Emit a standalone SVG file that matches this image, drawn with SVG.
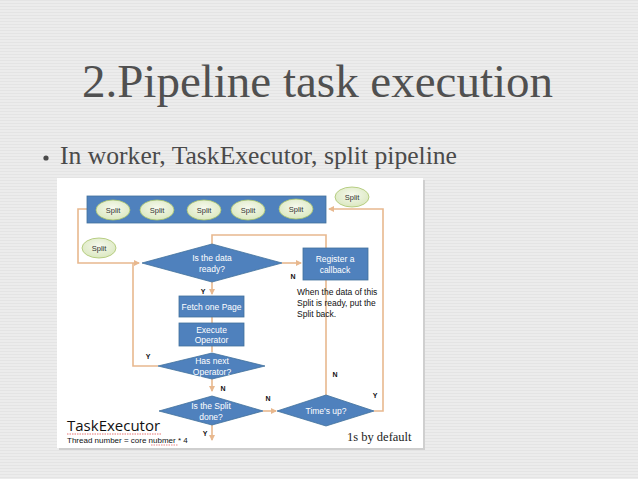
<svg xmlns="http://www.w3.org/2000/svg" width="638" height="479" viewBox="0 0 638 479">
<defs>
<pattern id="bg" width="4" height="3" patternUnits="userSpaceOnUse">
<rect width="4" height="3" fill="#ececec"/>
<rect width="4" height="1" fill="#e4e4e4"/>
</pattern>
<radialGradient id="sg" cx="50%" cy="40%" r="60%">
<stop offset="0" stop-color="#f6f9ee"/>
<stop offset="1" stop-color="#dbe8c0"/>
</radialGradient>
<marker id="ah" markerWidth="6" markerHeight="6" refX="5" refY="3" orient="auto" markerUnits="userSpaceOnUse">
<path d="M0,0 L6,3 L0,6 z" fill="#e8b88e"/>
</marker>
</defs>
<style>
.blue{fill:#4f81bd;stroke:#41719c;stroke-width:0.8}
.split{fill:url(#sg);stroke:#a9c46c;stroke-width:0.8}
.st{font-family:"Liberation Sans",Arial,sans-serif;font-size:7.5px;fill:#333;text-anchor:middle}
.wt{font-family:"Liberation Sans",Arial,sans-serif;font-size:8.5px;fill:#ffffff;text-anchor:middle}
.lb{font-family:"Liberation Sans",Arial,sans-serif;font-size:7px;fill:#111;font-weight:bold;text-anchor:middle}
.bt{font-family:"Liberation Sans",Arial,sans-serif;font-size:8.5px;fill:#111}
.ln{fill:none;stroke:#e8b88e;stroke-width:1.6}
</style>
<rect width="638" height="479" fill="url(#bg)"/>
<text x="82" y="97" font-family="Liberation Serif,'Times New Roman',serif" font-size="47" fill="#505050" textLength="471" lengthAdjust="spacingAndGlyphs">2.Pipeline task execution</text>
<circle cx="46" cy="158" r="2.6" fill="#4a4a4a"/>
<text x="60" y="164" font-family="Liberation Serif,'Times New Roman',serif" font-size="25" fill="#4a4a4a" textLength="397" lengthAdjust="spacingAndGlyphs">In worker, TaskExecutor, split pipeline</text>
<rect x="59" y="180" width="366" height="270" fill="#cfcfcf"/>
<rect x="57" y="178" width="366" height="270" fill="#ffffff"/>
<g id="connectors">
<polyline class="ln" points="87,209 78,209 78,263 139,263" marker-end="url(#ah)"/>
<polyline class="ln" points="158,366 133,366 133,263"/>
<polyline class="ln" points="212,244 212,235 326,235 326,248"/>
<line class="ln" x1="282" y1="263" x2="301" y2="263" marker-end="url(#ah)"/>
<line class="ln" x1="212" y1="282" x2="212" y2="294" marker-end="url(#ah)"/>
<line class="ln" x1="212" y1="317" x2="212" y2="323"/>
<line class="ln" x1="212" y1="346" x2="212" y2="352"/>
<line class="ln" x1="212" y1="379" x2="212" y2="391" marker-end="url(#ah)"/>
<line class="ln" x1="263" y1="411" x2="276" y2="411" marker-end="url(#ah)"/>
<line class="ln" x1="212" y1="425" x2="212" y2="440" marker-end="url(#ah)"/>
<line class="ln" x1="326" y1="280" x2="326" y2="395"/>
<polyline class="ln" points="374,411 383,411 383,209 329,209" marker-end="url(#ah)"/>
</g>
<g id="splits-bar">
<rect class="blue" x="87" y="196" width="239" height="27"/>
<ellipse class="split" cx="113" cy="210" rx="17" ry="10"/><text class="st" x="113" y="212.5">Split</text>
<ellipse class="split" cx="157" cy="210" rx="17" ry="10"/><text class="st" x="157" y="212.5">Split</text>
<ellipse class="split" cx="204" cy="210" rx="17" ry="10"/><text class="st" x="204" y="212.5">Split</text>
<ellipse class="split" cx="248" cy="210" rx="17" ry="10"/><text class="st" x="248" y="212.5">Split</text>
<ellipse class="split" cx="296" cy="209" rx="17" ry="10"/><text class="st" x="296" y="211.5">Split</text>
</g>
<g id="split-top"><ellipse class="split" cx="352" cy="197" rx="17" ry="10"/><text class="st" x="352" y="199.5">Split</text></g>
<g id="split-left"><ellipse class="split" cx="99" cy="248" rx="17" ry="10"/><text class="st" x="99" y="250.5">Split</text></g>
<g id="is-data-ready">
<polygon class="blue" points="142,263 212,244 282,263 212,282"/>
<text class="wt" x="212" y="261">Is the data</text><text class="wt" x="212" y="272">ready?</text>
</g>
<g id="register">
<rect class="blue" x="303" y="248" width="65" height="32"/>
<text class="wt" x="335" y="262">Register a</text><text class="wt" x="335" y="273">callback</text>
</g>
<g id="fetch">
<rect class="blue" x="179" y="296" width="65" height="21"/>
<text class="wt" x="211.5" y="309.5">Fetch one Page</text>
</g>
<g id="execute">
<rect class="blue" x="179" y="323" width="65" height="23"/>
<text class="wt" x="211.5" y="332.5">Execute</text><text class="wt" x="211.5" y="343">Operator</text>
</g>
<g id="has-next">
<polygon class="blue" points="158,366 212,353 265,366 212,379"/>
<text class="wt" x="212" y="364">Has next</text><text class="wt" x="212" y="375">Operator?</text>
</g>
<g id="split-done">
<polygon class="blue" points="159,411 212,396 263,411 212,425"/>
<text class="wt" x="211" y="409">Is the Split</text><text class="wt" x="211" y="420">done?</text>
</g>
<g id="times-up">
<polygon class="blue" points="277,411 326,395 374,411 326,426"/>
<text class="wt" x="326" y="414">Time's up?</text>
</g>
<g id="labels">
<text class="lb" x="203" y="294">Y</text>
<text class="lb" x="293" y="279">N</text>
<text class="lb" x="148" y="359">Y</text>
<text class="lb" x="223" y="391">N</text>
<text class="lb" x="268" y="401">N</text>
<text class="lb" x="335" y="377">N</text>
<text class="lb" x="375" y="398">Y</text>
<text class="lb" x="205" y="436">Y</text>
<text class="bt" x="297" y="295">When the data of this</text>
<text class="bt" x="297" y="306">Split is ready, put the</text>
<text class="bt" x="297" y="317">Split back.</text>
<text x="67" y="431" font-family="'Open Sans','Liberation Sans',sans-serif" font-size="15" fill="#111">TaskExecutor</text>
<line x1="67" y1="434" x2="161" y2="434" stroke="#e05050" stroke-width="0.8" stroke-dasharray="1.5,1"/>
<text x="67" y="443" font-family="'Liberation Sans',Arial,sans-serif" font-size="8" fill="#111">Thread number = core nubmer * 4</text>
<line x1="151" y1="445" x2="178" y2="445" stroke="#e05050" stroke-width="0.7" stroke-dasharray="1.5,1"/>
<text x="347" y="441" font-family="'Liberation Serif','Times New Roman',serif" font-size="12.5" fill="#222">1s by default</text>
</g>
</svg>
